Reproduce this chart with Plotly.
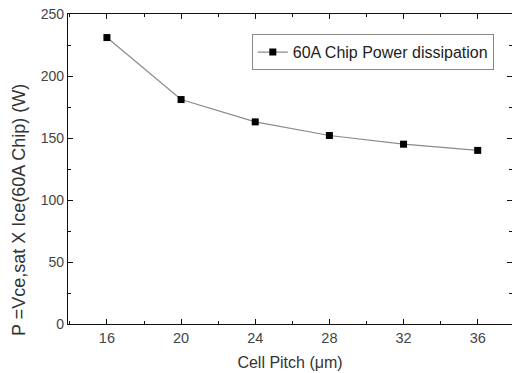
import plotly.graph_objects as go

cell_pitch = [16, 20, 24, 28, 32, 36]
power = [231, 181, 163, 152, 145, 140]
series_name = "60A Chip Power dissipation"
x_title = "Cell Pitch (μm)"
y_title = "P =Vce,sat X Ice(60A Chip) (W)"

FONT = "Liberation Sans, Arial"

fig = go.Figure()
fig.add_trace(go.Scatter(
    x=cell_pitch, y=power, mode="lines+markers", name=series_name,
    line=dict(color="#8a8a8a", width=1.2),
    marker=dict(symbol="square", size=7, color="black"),
))

axis_common = dict(
    showline=True, linecolor="#111111", linewidth=1.4, mirror="allticks",
    ticks="inside", ticklen=5, tickcolor="#111111", tickwidth=1.2,
    showgrid=False, zeroline=False,
)

fig.update_layout(
    width=512, height=373,
    margin=dict(l=68, r=0, t=14, b=49),
    paper_bgcolor="white", plot_bgcolor="white",
    showlegend=True,
    legend=dict(x=0.414, y=0.935, xanchor="left", yanchor="top",
                bordercolor="#888888", borderwidth=1, bgcolor="white",
                font=dict(family=FONT, size=16, color="#222222"),
                itemwidth=30, tracegroupgap=0),
    xaxis=dict(range=[13.9, 37.85], tickvals=[16, 20, 24, 28, 32, 36],
               minor=dict(dtick=2, tick0=0, ticks="inside", ticklen=3, tickcolor="#111111"),
               tickfont=dict(family=FONT, size=14.5, color="#444444"),
               title=dict(text=x_title, standoff=12,
                          font=dict(family=FONT, size=16, color="#333333")),
               **axis_common),
    yaxis=dict(range=[0, 250], dtick=50,
               minor=dict(dtick=25, ticks="inside", ticklen=3, tickcolor="#111111"),
               tickfont=dict(family=FONT, size=14, color="#444444"),
               **axis_common),
    annotations=[dict(text=y_title, textangle=-90, xref="paper", yref="paper",
                      x=0, y=(324 - 210) / 310, xanchor="center", yanchor="middle", xshift=-49,
                      showarrow=False,
                      font=dict(family=FONT, size=18, color="#333333"))],
)

fig.write_html("out.html")
